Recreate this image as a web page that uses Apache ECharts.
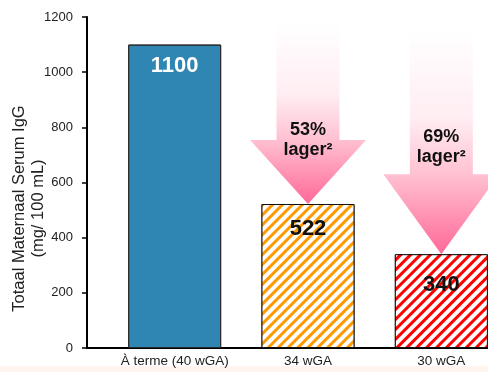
<!DOCTYPE html>
<html>
<head>
<meta charset="utf-8">
<script src="https://cdn.jsdelivr.net/npm/echarts@6/dist/echarts.min.js"></script>
<style>
  html, body { margin: 0; padding: 0; background: #fff; }
  #chart { width: 488px; height: 372px; }
</style>
</head>
<body>
<div id="chart"></div>
<script>
// Maternal serum IgG by gestational age
const categories = ['À terme (40 wGA)', '34 wGA', '30 wGA'];
const iggValues = [1100, 522, 340];
const yTicks = [0, 200, 400, 600, 800, 1000, 1200];

// Reduction arrows: which bar they point to, where the shaft starts, and their text
const arrowCategories = [1, 2];
const arrowStartValues = [1181, 1156];
const arrowPercentLabels = ['53%', '69%'];
const arrowSuffix = 'lager²';

const FONT = '"Liberation Sans", Arial, sans-serif';
const headHeights = [64, 80];

const chart = echarts.init(document.getElementById('chart'), null, { renderer: 'canvas' });

function stripes(color) {
  return {
    symbol: 'rect',
    symbolSize: 1,
    color: color,
    backgroundColor: '#ffffff',
    dashArrayX: [1, 0],
    dashArrayY: [3, 4],
    rotation: -Math.PI / 4
  };
}

const barStyles = [
  { itemStyle: { color: '#2F86B3', borderColor: '#2a2a2a', borderWidth: 1, decal: { symbol: 'none' } },
    label: { color: '#ffffff', distance: 10 } },
  { itemStyle: { color: '#ffffff', borderColor: '#111', borderWidth: 1, decal: stripes('#FF9900') },
    label: { color: '#111111', distance: 14 } },
  { itemStyle: { color: '#ffffff', borderColor: '#111', borderWidth: 1, decal: stripes('#FF0000') },
    label: { color: '#111111', distance: 20 } }
];

const arrowFill = new echarts.graphic.LinearGradient(0, 0, 0, 1, [
  { offset: 0, color: '#FFFFFF' },
  { offset: 0.4, color: '#FFEDF2' },
  { offset: 0.65, color: '#FFC0D1' },
  { offset: 1, color: '#FF6898' }
]);

chart.setOption({
  animation: false,
  aria: { enabled: true, decal: { show: true } },
  grid: { left: 108, right: -20, top: 17, bottom: 24, outerBoundsMode: 'none', containLabel: false },
  xAxis: {
    type: 'category',
    data: categories,
    axisTick: { show: false },
    axisLine: { lineStyle: { color: '#000', width: 2 } },
    axisLabel: { color: '#222', fontFamily: FONT, fontSize: 13.5, margin: 6, interval: 0 }
  },
  yAxis: {
    type: 'value',
    min: yTicks[0],
    max: yTicks[yTicks.length - 1],
    interval: yTicks[1] - yTicks[0],
    offset: 21,
    splitLine: { show: false },
    axisLine: { show: true, lineStyle: { color: '#000', width: 2 } },
    axisTick: { show: true, length: 5, lineStyle: { color: '#000', width: 1.5 } },
    axisLabel: { color: '#222', fontFamily: FONT, fontSize: 13, margin: 14, formatter: v => String(v) },
    name: 'Totaal Maternaal Serum IgG\n(mg/ 100 mL)',
    nameLocation: 'middle',
    nameRotate: 90,
    nameGap: 39,
    nameMoveOverlap: false,
    nameTextStyle: { color: '#222', fontFamily: FONT, fontSize: 16.5, lineHeight: 19, padding: [0, 52, 0, 0] }
  },
  series: [
    {
      type: 'custom',
      z: 1,
      clip: false,
      data: arrowCategories.map((c, i) => [c, iggValues[c], arrowStartValues[i]]),
      renderItem: function (params, api) {
        const i = params.dataIndex;
        const cat = api.value(0);
        const tip = api.coord([cat, api.value(1)]);
        const top = api.coord([cat, api.value(2)]);
        const cx = tip[0];
        const shaftHalf = 31.5, headHalf = 58;
        const hy = tip[1] - headHeights[i];
        return {
          type: 'group',
          children: [
            {
              type: 'polygon',
              shape: { points: [
                [cx - shaftHalf, top[1]], [cx + shaftHalf, top[1]], [cx + shaftHalf, hy],
                [cx + headHalf, hy], [cx, tip[1]], [cx - headHalf, hy], [cx - shaftHalf, hy]
              ] },
              style: { fill: arrowFill }
            },
            {
              type: 'text',
              x: cx,
              y: top[1] + 118,
              style: {
                text: arrowPercentLabels[i] + '\n' + arrowSuffix,
                fill: '#111',
                font: 'bold 18px ' + FONT,
                lineHeight: 20,
                align: 'center',
                verticalAlign: 'middle'
              }
            }
          ]
        };
      }
    },
    {
      type: 'bar',
      z: 2,
      barWidth: 93,
      label: {
        show: true,
        position: 'insideTop',
        fontFamily: FONT,
        fontSize: 22,
        fontWeight: 'bold'
      },
      data: iggValues.map((v, i) => Object.assign({ value: v }, barStyles[i]))
    }
  ]
});

// Extend the baseline left to meet the offset value axis, and a faint footer band
const y0 = chart.convertToPixel({ yAxisIndex: 0 }, 0);
chart.setOption({
  graphic: [
    { type: 'line', shape: { x1: 86, y1: y0, x2: 110, y2: y0 }, style: { stroke: '#000', lineWidth: 2 }, z: 10 },
    { type: 'rect', shape: { x: 0, y: 366, width: 488, height: 6 }, style: { fill: '#FFF4EE' }, z: -1 }
  ]
});
</script>
</body>
</html>
